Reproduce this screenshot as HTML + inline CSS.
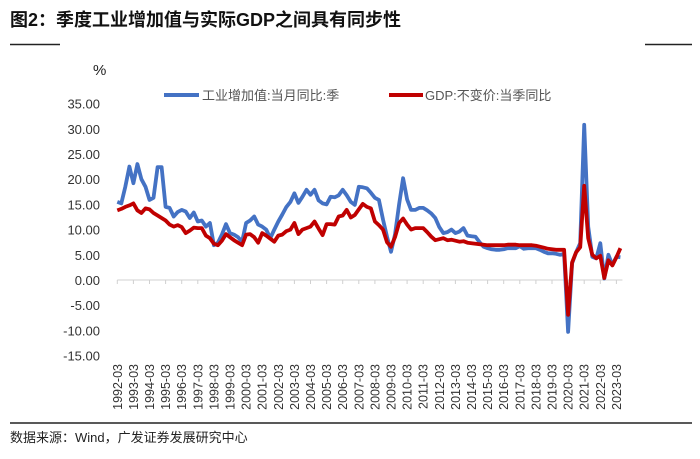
<!DOCTYPE html>
<html><head><meta charset="utf-8"><style>
body{margin:0;background:#fff;}
svg{display:block;font-family:"Liberation Sans","Noto Sans CJK SC",sans-serif;}
</style></head><body>
<svg width="700" height="459" viewBox="0 0 700 459">
<text x="10" y="26" font-size="18" font-weight="bold" fill="#111">图2：季度工业增加值与实际GDP之间具有同步性</text>
<line x1="10" y1="44.5" x2="60" y2="44.5" stroke="#222" stroke-width="1.5"/>
<line x1="645" y1="44.5" x2="692" y2="44.5" stroke="#222" stroke-width="1.5"/>
<text x="93" y="75" font-size="15" fill="#222">%</text>
<g>
<line x1="164" y1="95" x2="199" y2="95" stroke="#4472C4" stroke-width="4"/>
<text x="202" y="100" font-size="13" fill="#555">工业增加值:当月同比:季</text>
<line x1="389" y1="95" x2="423" y2="95" stroke="#C00000" stroke-width="4"/>
<text x="425" y="100" font-size="13" fill="#555">GDP:不变价:当季同比</text>
</g>
<g id="yaxis"></g>
<g id="xaxis"></g>
<g id="series"></g>
<line x1="10" y1="423" x2="692" y2="423" stroke="#222" stroke-width="1.5"/>
<text x="10" y="442" font-size="13" fill="#222">数据来源：Wind，广发证券发展研究中心</text>
</svg>
<script>
const yTicks=[35,30,25,20,15,10,5,0,-5,-10,-15];
const yearLabels=[];for(let y=1992;y<=2023;y++)yearLabels.push(y+'-03');
const industry=[15.5,15.2,18.5,22.5,19.2,23,20,18.5,15.9,16.3,22.4,22.4,14.5,14.3,12.6,13.5,13.9,13.6,12.3,13.4,11.6,11.8,10.6,11.3,6.9,7.4,9,11.1,9.3,9,8.5,7.6,11.3,11.8,12.6,11,10.6,10,8.3,10,11.6,13,14.5,15.5,17.2,15.3,16.5,17.9,16.9,17.9,15.8,15.2,15,16.5,16.4,16.8,17.9,16.8,15.5,14.9,18.5,18.4,18.2,17.3,16.3,15.9,12,8.6,5.6,9,15,20.2,16,13.9,13.9,14.3,14.3,13.8,13.2,12.3,10.5,9.3,9.5,10,9.3,9.6,10.3,8.8,8.7,8.6,7.5,6.6,6.3,6.1,6,6,6.1,6.3,6.3,6.3,6.7,6.2,6.3,6.3,6.3,6,5.6,5.3,5.3,5.2,5,5.2,-10.3,3.3,5.5,7.3,30.8,10.6,4.6,4.3,7.3,0.3,5,3,4.6,4.5];
const gdp=[13.8,14.1,14.5,14.8,15.2,13.8,13.3,14.2,14,13.3,12.8,12.3,11.8,11,10.6,10.9,10.5,9.3,9.8,10.4,10.3,10.3,8.8,8.3,7.2,6.9,7.8,9.1,8.5,7.9,7.4,6.9,9,9.1,8.5,7.4,9.3,8.8,8.2,7.6,8.8,9,9.7,10,11.3,9.1,10,10.3,10.6,11.6,10.2,8.9,11.1,11.1,11,12.6,12.8,13.9,12.4,12.9,14,15.1,14.5,14.2,11.6,10.9,10,7.5,6.6,8.5,11.3,12.2,11,10,10.3,10.3,10.3,9.5,8.6,7.9,8.1,8.3,7.9,8,7.8,7.6,7.7,7.4,7.3,7.2,7.1,7,6.9,6.9,6.9,6.9,6.9,7,7,7,6.9,6.9,6.9,6.9,6.8,6.6,6.4,6.2,6.1,6,6,6,-6.9,3.5,5.5,6.5,18.7,8.3,5,4.3,4.8,0.4,3.9,2.9,4.5,6.3];
const NS='http://www.w3.org/2000/svg';
const x0=117.3,qw=4.025;
const X=i=>x0+i*qw;
const Y=v=>280-v*5.04;
const ya=document.getElementById('yaxis'),xa=document.getElementById('xaxis'),sg=document.getElementById('series');
yTicks.forEach(v=>{const t=document.createElementNS(NS,'text');
t.setAttribute('x',100);t.setAttribute('y',Y(v)+5);t.setAttribute('text-anchor','end');
t.setAttribute('font-size','13');t.setAttribute('fill','#333');t.textContent=v.toFixed(2);


ya.appendChild(t);});
const ax=document.createElementNS(NS,'line');
ax.setAttribute('x1',X(0));ax.setAttribute('x2',X(industry.length-1)+2);ax.setAttribute('y1',Y(0));ax.setAttribute('y2',Y(0));
ax.setAttribute('stroke','#d0d0d0');ax.setAttribute('stroke-width','1');


xa.appendChild(ax);
yearLabels.forEach((l,k)=>{const x=X(k*4);
const tk=document.createElementNS(NS,'line');
tk.setAttribute('x1',x);tk.setAttribute('x2',x);tk.setAttribute('y1',Y(0));tk.setAttribute('y2',Y(0)+4);tk.setAttribute('stroke','#d0d0d0');


xa.appendChild(tk);
const t=document.createElementNS(NS,'text');
t.setAttribute('transform','translate('+(x+4.5)+',364) rotate(-90)');
t.setAttribute('text-anchor','end');t.setAttribute('font-size','12.5');t.setAttribute('fill','#333');t.textContent=l;


xa.appendChild(t);});
function line(arr,color,name){const p=document.createElementNS(NS,'polyline');
p.setAttribute('points',arr.map((v,i)=>X(i).toFixed(1)+','+Y(v).toFixed(1)).join(' '));
p.setAttribute('fill','none');p.setAttribute('stroke',color);p.setAttribute('stroke-width','3.8');p.setAttribute('stroke-linejoin','round');


sg.appendChild(p);}
line(industry,'#4472C4','industry-value-added-line');
line(gdp,'#C00000','gdp-growth-line');
</script>
</body></html>
